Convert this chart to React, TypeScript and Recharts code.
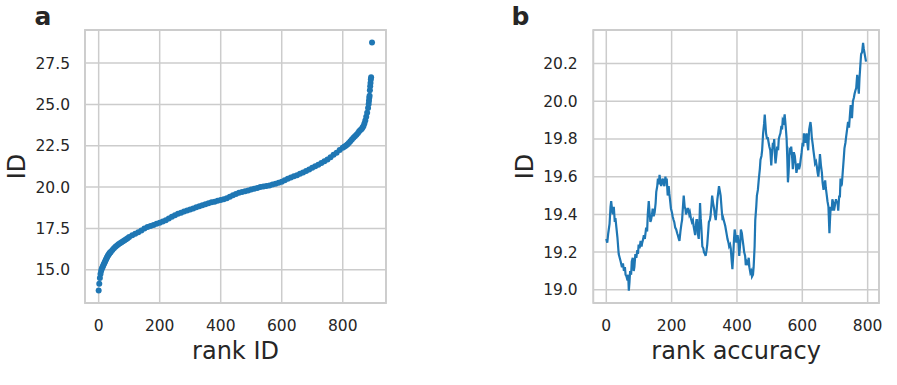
import React from 'react';
import {
  ScatterChart, Scatter, LineChart, Line, XAxis, YAxis, CartesianGrid, ReferenceArea,
} from 'recharts';

const rankA = [0,2,4,6,8,10,12,14,16,18,20,22,24,26,28,30,32,34,36,38,40,45,50,55,60,65,70,75,80,85,90,95,100,110,120,130,140,150,160,170,180,190,200,210,220,230,240,250,260,270,280,290,300,310,320,330,340,350,360,370,380,390,400,410,420,430,440,450,460,470,480,490,500,510,520,530,540,550,560,570,580,590,600,610,620,630,640,650,660,670,680,690,700,710,720,730,740,750,760,770,780,790,800,805,810,815,820,825,830,835,840,845,850,854,858,862,865,868,871,874,877,880,883,885,886,887,888,889,890,891,892,893,896];
const idA = [13.74,14.15,14.5,14.75,14.92,15.04,15.14,15.22,15.3,15.38,15.46,15.54,15.62,15.7,15.77,15.84,15.9,15.96,16.01,16.05,16.09,16.2,16.3,16.39,16.47,16.54,16.6,16.67,16.73,16.78,16.84,16.91,16.98,17.08,17.18,17.27,17.38,17.5,17.58,17.64,17.7,17.78,17.85,17.92,18.0,18.1,18.2,18.3,18.38,18.45,18.52,18.58,18.64,18.71,18.78,18.84,18.9,18.96,19.02,19.08,19.12,19.18,19.22,19.26,19.32,19.42,19.5,19.58,19.65,19.7,19.75,19.8,19.85,19.9,19.95,20.0,20.03,20.07,20.1,20.15,20.2,20.26,20.33,20.42,20.5,20.58,20.65,20.72,20.8,20.88,20.97,21.06,21.17,21.26,21.35,21.46,21.56,21.67,21.8,21.95,22.08,22.25,22.38,22.44,22.5,22.58,22.67,22.77,22.88,22.99,23.08,23.17,23.27,23.37,23.45,23.52,23.6,23.7,23.84,24.02,24.25,24.5,24.78,25.02,25.22,25.4,25.52,25.85,26.1,26.3,26.5,26.65,28.75];

const rankB = [0,3,6,10,13,15,18,20,23,26,28,31,34,38,41,44,48,51,54,57,59,62,65,67,69,71,73,76,78,81,84,86,89,92,95,97,99,102,105,108,110,113,115,118,122,125,127,130,132,135,137,140,142,145,148,151,153,156,158,161,163,166,168,171,173,176,178,181,183,185,188,191,193,195,198,201,203,206,208,211,214,217,219,222,224,227,230,232,235,237,240,242,244,246,249,251,254,256,259,262,265,267,270,272,274,276,278,280,283,285,287,289,291,294,297,299,302,304,307,309,312,314,317,319,322,324,327,330,332,335,338,340,343,345,348,350,353,356,358,361,364,366,369,371,374,376,379,381,384,386,389,391,393,396,398,400,402,405,407,410,412,415,417,420,422,425,427,430,433,436,438,441,444,446,449,451,454,456,459,461,464,467,470,472,475,477,480,483,485,487,489,492,494,497,499,502,505,507,510,512,514,516,518,521,523,526,528,531,533,536,538,540,543,546,549,552,554,556,558,561,564,566,569,571,574,577,580,582,585,587,590,593,595,598,601,603,605,607,609,611,613,616,618,620,621,623,625,627,629,632,634,637,639,642,644,647,649,652,654,657,660,662,665,667,670,672,675,677,680,683,685,687,690,692,695,697,700,703,705,708,710,713,715,717,719,721,724,727,729,732,734,737,740,743,745,748,750,752,755,758,760,763,765,768,770,773,775,778,780,783,786,788,790,793,795];
const idB = [19.27,19.25,19.30,19.35,19.44,19.47,19.42,19.40,19.44,19.36,19.38,19.33,19.28,19.19,19.17,19.15,19.12,19.14,19.10,19.12,19.08,19.07,19.05,19.08,18.995,19.04,19.10,19.08,19.15,19.17,19.10,19.12,19.19,19.17,19.21,19.19,19.24,19.22,19.26,19.23,19.25,19.27,19.29,19.27,19.33,19.31,19.40,19.47,19.42,19.36,19.37,19.40,19.43,19.39,19.41,19.46,19.52,19.55,19.59,19.56,19.61,19.57,19.55,19.58,19.59,19.56,19.55,19.60,19.57,19.59,19.50,19.55,19.51,19.48,19.43,19.41,19.39,19.37,19.36,19.33,19.32,19.30,19.29,19.27,19.26,19.31,19.35,19.37,19.45,19.50,19.44,19.43,19.40,19.41,19.43,19.43,19.40,19.41,19.38,19.36,19.37,19.34,19.31,19.29,19.34,19.37,19.37,19.30,19.27,19.35,19.46,19.38,19.33,19.23,19.22,19.20,19.19,19.18,19.21,19.24,19.31,19.36,19.37,19.39,19.45,19.50,19.46,19.43,19.40,19.37,19.43,19.48,19.52,19.55,19.52,19.50,19.43,19.37,19.38,19.36,19.34,19.32,19.29,19.27,19.25,19.23,19.24,19.22,19.15,19.11,19.20,19.27,19.32,19.28,19.25,19.27,19.29,19.24,19.18,19.25,19.32,19.30,19.27,19.23,19.20,19.18,19.13,19.15,19.14,19.17,19.12,19.09,19.10,19.07,19.08,19.12,19.23,19.37,19.44,19.50,19.53,19.59,19.64,19.69,19.71,19.74,19.83,19.88,19.93,19.88,19.83,19.80,19.81,19.78,19.76,19.74,19.66,19.72,19.78,19.76,19.80,19.72,19.67,19.72,19.76,19.74,19.80,19.82,19.83,19.87,19.85,19.90,19.89,19.93,19.87,19.80,19.70,19.57,19.62,19.74,19.73,19.76,19.70,19.64,19.73,19.71,19.66,19.62,19.65,19.67,19.64,19.66,19.69,19.73,19.78,19.76,19.83,19.80,19.78,19.81,19.83,19.77,19.74,19.82,19.85,19.87,19.89,19.86,19.81,19.77,19.74,19.70,19.67,19.68,19.66,19.62,19.60,19.66,19.72,19.66,19.62,19.57,19.53,19.56,19.58,19.54,19.50,19.47,19.44,19.30,19.38,19.44,19.42,19.48,19.46,19.42,19.45,19.48,19.47,19.46,19.42,19.50,19.49,19.59,19.55,19.56,19.63,19.70,19.75,19.78,19.81,19.85,19.89,19.86,19.91,19.98,19.94,19.91,20.00,20.02,20.04,20.06,20.07,20.14,20.10,20.04,20.12,20.20,20.25,20.26,20.31,20.28,20.26,20.23,20.21];

const ticksAX = [0, 200, 400, 600, 800];
const ticksAY = [15, 17.5, 20, 22.5, 25, 27.5];
const ticksBX = [0, 200, 400, 600, 800];
const ticksBY = [19.0, 19.2, 19.4, 19.6, 19.8, 20.0, 20.2];

const dataA = rankA.map((r, i) => ({ rank: r, id: idA[i] }));
const dataB = rankB.map((r, i) => ({ rank: r, id: idB[i] }));

const FONT = 'DejaVu Sans';
const TXT = '#262626';
const GRID = '#cccccc';
const BLUE = '#1f77b4';
const tickStyle = { fill: TXT, fontSize: 15.5, fontFamily: FONT };

const xLabel = (text: string) => (props: any) => {
  const vb = props.viewBox || {};
  return (
    <text x={vb.x + vb.width / 2} y={359} textAnchor="middle" fill={TXT} fontSize={24} fontFamily={FONT}>
      {text}
    </text>
  );
};

const yLabel = (text: string, bx: number) => () => (
  <text transform={`translate(${bx},166.5) rotate(-90)`} textAnchor="middle" fill={TXT} fontSize={24} fontFamily={FONT}>
    {text}
  </text>
);

const dot = (p: any) => <circle cx={p.cx} cy={p.cy} r={3} fill={BLUE} />;

const AX = [-44.8, 941.8];
const AY = [12.99, 29.5];
const BX = [-39.75, 834.75];
const BY = [18.93, 20.378];

export default function App() {
  return (
    <div style={{ position: 'absolute', left: 0, top: 0, width: 897, height: 385, background: '#fff', fontFamily: FONT }}>
      <div style={{ position: 'absolute', left: 0, top: 0 }}>
        <ScatterChart width={400} height={385} margin={{ top: 30, right: 14, bottom: 52, left: 25 }}>
          <CartesianGrid stroke={GRID} strokeWidth={1.5} />
          <XAxis type="number" dataKey="rank" domain={AX} ticks={ticksAX} allowDataOverflow
            tickLine={false} axisLine={false} tickSize={0} tickMargin={16.7} height={30}
            tick={tickStyle} label={{ content: xLabel('rank ID') }} />
          <YAxis type="number" dataKey="id" domain={AY} ticks={ticksAY} allowDataOverflow
            tickLine={false} axisLine={false} tickSize={0} tickMargin={15} width={60}
            tick={tickStyle} tickFormatter={(v: number) => v.toFixed(1)} label={{ content: yLabel('ID', 25) }} />
          <ReferenceArea x1={AX[0]} x2={AX[1]} y1={AY[0]} y2={AY[1]} fill="none" fillOpacity={0} stroke={GRID} strokeWidth={1.8} />
          <Scatter data={dataA} dataKey="id" fill={BLUE} shape={dot} isAnimationActive={false} />
        </ScatterChart>
      </div>
      <div style={{ position: 'absolute', left: 490, top: 0 }}>
        <LineChart width={407} height={385} data={dataB} margin={{ top: 30, right: 18, bottom: 52, left: 43.3 }}>
          <CartesianGrid stroke={GRID} strokeWidth={1.5} />
          <XAxis type="number" dataKey="rank" domain={BX} ticks={ticksBX} allowDataOverflow
            tickLine={false} axisLine={false} tickSize={0} tickMargin={16.7} height={30}
            tick={tickStyle} label={{ content: xLabel('rank accuracy') }} />
          <YAxis type="number" domain={BY} ticks={ticksBY} allowDataOverflow
            tickLine={false} axisLine={false} tickSize={0} tickMargin={15.6} width={60}
            tick={tickStyle} tickFormatter={(v: number) => v.toFixed(1)} label={{ content: yLabel('ID', 42.5) }} />
          <ReferenceArea x1={BX[0]} x2={BX[1]} y1={BY[0]} y2={BY[1]} fill="none" fillOpacity={0} stroke={GRID} strokeWidth={1.8} />
          <Line type="linear" dataKey="id" stroke={BLUE} strokeWidth={2.2} dot={false} isAnimationActive={false} />
        </LineChart>
      </div>
      <div style={{ position: 'absolute', left: 34.5, top: 0, height: 27, fontSize: 25, fontWeight: 'bold', color: TXT, fontFamily: FONT, lineHeight: '33px' }}>a</div>
      <div style={{ position: 'absolute', left: 511.5, top: 0, height: 27, fontSize: 25, fontWeight: 'bold', color: TXT, fontFamily: FONT, lineHeight: '33px' }}>b</div>
    </div>
  );
}
